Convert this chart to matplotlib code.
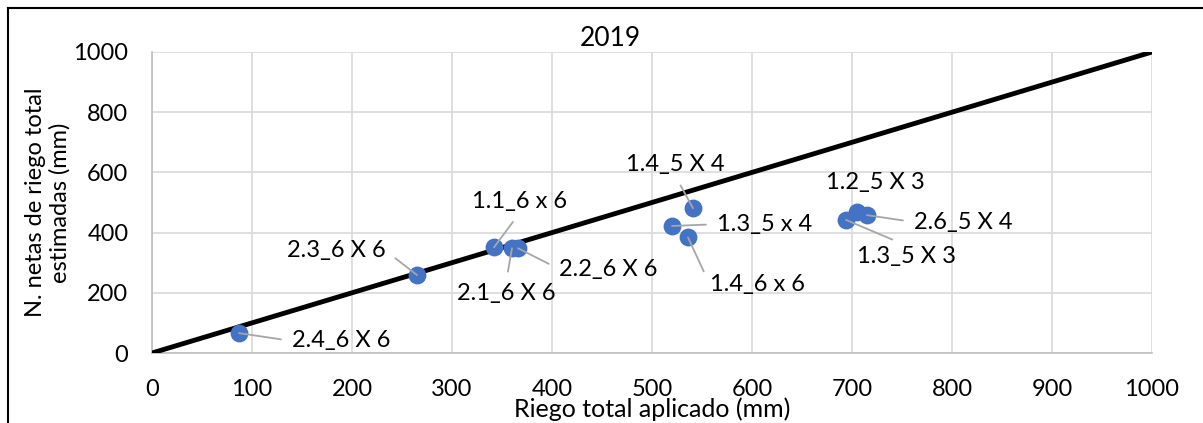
import matplotlib
matplotlib.use("Agg")
import matplotlib.pyplot as plt
from matplotlib.lines import Line2D

plt.rcParams['font.family'] = ['Lato', 'DejaVu Sans']

# Data
labels = ["2.4_6 X 6", "2.3_6 X 6", "1.1_6 x 6", "2.1_6 X 6", "2.2_6 X 6",
          "1.4_5 X 4", "1.3_5 x 4", "1.4_6 x 6", "1.2_5 X 3", "2.6_5 X 4", "1.3_5 X 3"]
riego_aplicado = [87, 265, 342, 360, 366, 541, 520, 536, 705, 715, 694]
riego_estimado = [66, 259, 351, 348, 348, 481, 422, 384, 470, 458, 442]
line_x = [0, 1000]
line_y = [0, 1000]
ticks = [0, 100, 200, 300, 400, 500, 600, 700, 800, 900, 1000]
yticks = [0, 200, 400, 600, 800, 1000]

# label placement (text position, alignment, leader start relpos)
label_pos = [(140, 40), (234, 339), (368, 502), (354, 199), (407, 279),
             (523, 625), (565, 428), (558, 226), (723, 565), (762, 435), (705, 322)]
label_ha = ['left', 'right', 'center', 'center', 'left',
            'center', 'left', 'left', 'center', 'left', 'left']
label_rel = [(0, 0.5), (1, 0.5), (0.5, 0), (0.5, 1), (0, 0.5),
             (0.5, 0), (0, 0.5), (0, 0.5), None, (0, 0.5), (0.5, 1)]

FS = 17
W, H = 1203, 423
fig = plt.figure(figsize=(W / 100, H / 100), dpi=100)
ax = fig.add_axes([152 / W, 1 - 353 / H, 1000 / W, 301 / H])

ax.set_xlim(0, 1000)
ax.set_ylim(0, 1000)
ax.set_xticks(ticks)
ax.set_yticks(yticks)
ax.grid(True, color='#D9D9D9', linewidth=1.2)
ax.set_axisbelow(True)
for s in ['top', 'right']:
    ax.spines[s].set_visible(False)
for s in ['left', 'bottom']:
    ax.spines[s].set_color('#BFBFBF')
    ax.spines[s].set_linewidth(1.2)
ax.tick_params(length=0, labelsize=FS)
ax.tick_params(axis='x', pad=19)
ax.tick_params(axis='y', pad=17)

ax.plot(line_x, line_y, color='black', linewidth=3.5, zorder=3, solid_capstyle='butt')
ax.scatter(riego_aplicado, riego_estimado, s=165, color='#4472C4', zorder=4, linewidths=0)

for lab, x, y, pos, ha, rel in zip(labels, riego_aplicado, riego_estimado,
                                   label_pos, label_ha, label_rel):
    kw = {}
    if rel is not None:
        kw['arrowprops'] = dict(arrowstyle='-', color='#A6A6A6', lw=1.3,
                                relpos=rel, shrinkA=6, shrinkB=0)
    ax.annotate(lab, xy=(x, y), xytext=pos, textcoords='data', ha=ha, va='center',
                fontsize=FS, color='black', zorder=5, **kw)

fig.text(610 / W, 1 - 38 / H, "2019", fontsize=19, ha='center', va='center')
ax.set_xlabel("Riego total aplicado (mm)", fontsize=18)
ax.xaxis.set_label_coords(0.5, -(409 - 353) / 301)
ax.xaxis.label.set_va('center')
ax.set_ylabel("N. netas de riego total\nestimadas (mm)", fontsize=FS, linespacing=1.15)
ax.yaxis.set_label_coords(-(152 - 48) / 1000, 0.5)
ax.yaxis.label.set_va('center')

# figure frame
fig.add_artist(Line2D([8 / W, 1], [1 - 8 / H, 1 - 8 / H], color='black', lw=1.5,
                      transform=fig.transFigure))
fig.add_artist(Line2D([8 / W, 8 / W], [0, 1 - 8 / H], color='black', lw=1.5,
                      transform=fig.transFigure))

fig.savefig("out.png", dpi=100)
